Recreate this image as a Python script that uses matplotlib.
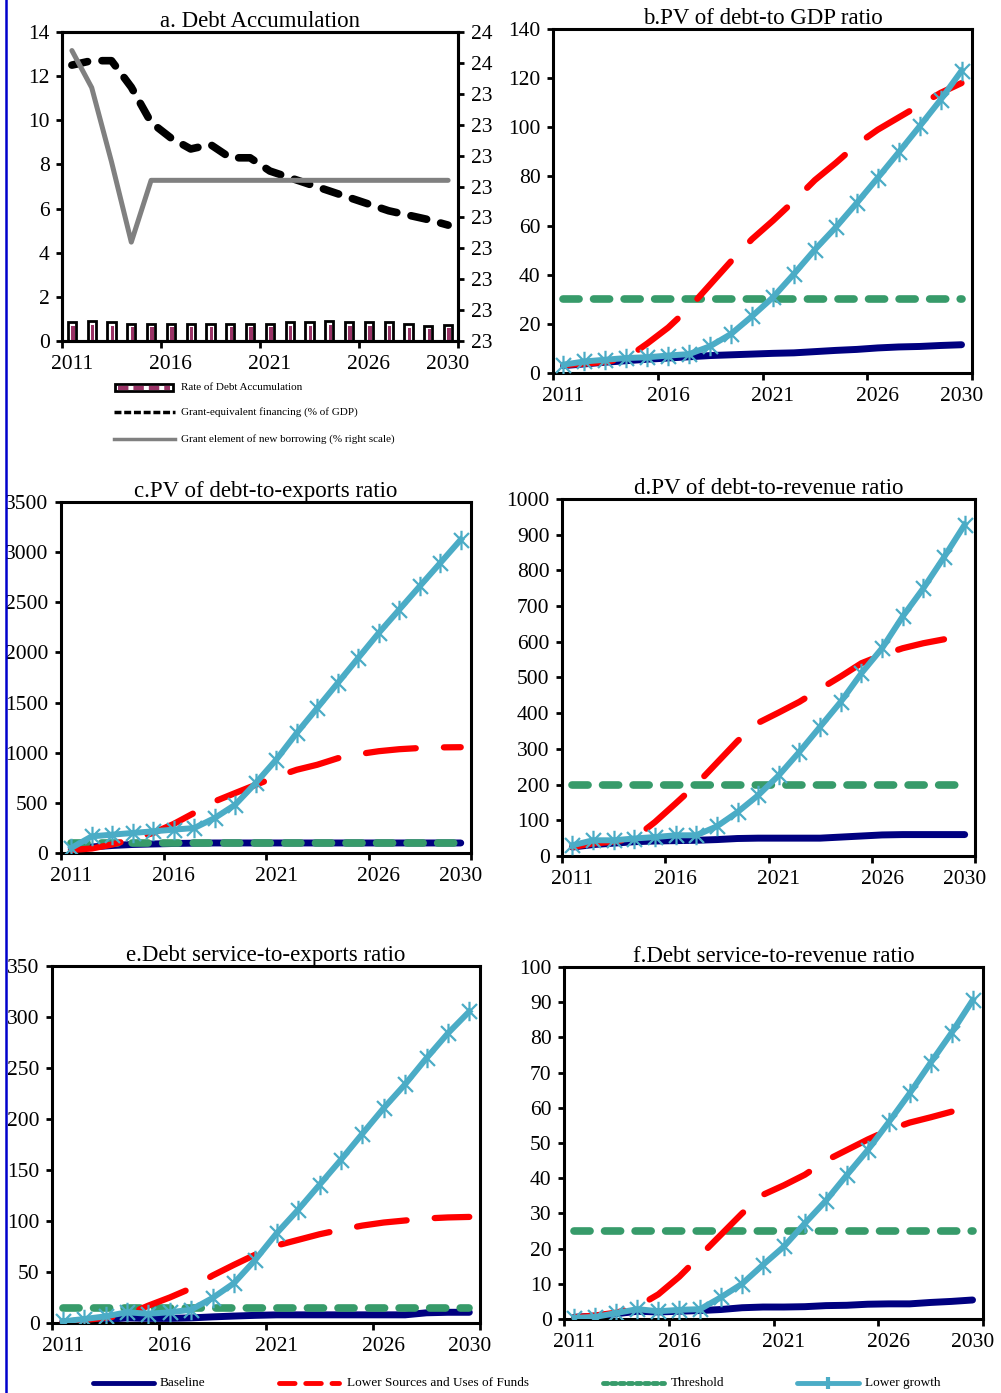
"""
Debt sustainability charts: debt accumulation plus five stress-test ratios
"""

import numpy as np
import matplotlib
matplotlib.use("Agg")
import matplotlib.pyplot as plt
from matplotlib.path import Path
from matplotlib.lines import Line2D
from matplotlib.patches import Rectangle
from matplotlib.ticker import FixedLocator, FixedFormatter, NullFormatter, FuncFormatter

plt.rcParams['font.family'] = ['Liberation Serif', 'DejaVu Serif']

# ---- data -------------------------------------------------------------
years = list(range(2011, 2031))
year_labels = ['2011', '2016', '2021', '2026', '2030']
nan = np.nan

# a. Debt accumulation
debt_accum_rate = [0.85, 0.92, 0.85, 0.78, 0.78, 0.78, 0.78, 0.78, 0.78, 0.78,
                   0.78, 0.85, 0.85, 0.92, 0.85, 0.85, 0.85, 0.75, 0.68, 0.72]
grant_equiv_fin = [12.5, 12.7, 12.7, 11.5, 9.9, 9.2, 8.7, 8.9, 8.3, 8.3,
                   7.7, 7.4, 7.1, 6.8, 6.5, 6.2, 5.9, 5.7, 5.5, 5.25]
grant_element = [23.52, 23.46, 23.34, 23.21] + [23.31] * 16

# b. PV of debt-to GDP ratio
b_baseline = [3.0, 3.7, 4.4, 5.0, 5.6, 6.1, 6.6, 7.1, 7.4, 7.7,
              8.0, 8.2, 8.7, 9.2, 9.6, 10.2, 10.6, 10.8, 11.2, 11.5]
b_lower_src = [3.2, 3.8, 4.5, 6.0, 12.0, 18.5, 26.5, 36.0, 45.5, 54.5,
               62.0, 70.0, 78.5, 85.5, 93.0, 99.0, 104.0, 109.0, 114.0, 118.0]
b_threshold = [30] * 20
b_lower_growth = [3.4, 4.7, 5.4, 6.1, 6.4, 7.1, 7.7, 10.9, 15.9, 23.1,
                  30.8, 40.3, 50.2, 59.3, 69.2, 79.4, 89.8, 100.4, 111.2, 123.0]

# c. PV of debt-to-exports ratio
c_baseline = [40, 60, 75, 85, 90, 95, 98, 100, 100, 100,
              100, 100, 100, 100, 100, 100, 100, 100, 100, 100]
c_lower_src = [30, 45, 85, 140, 200, 290, 400, 515, 598, 680,
               760, 830, 880, 945, 985, 1015, 1035, 1047, 1053, 1055]
c_threshold = [100] * 20
c_lower_growth = [50, 166, 183, 200, 216, 233, 249, 349, 482, 698,
                  931, 1197, 1446, 1695, 1945, 2194, 2427, 2660, 2892, 3125]

# d. PV of debt-to-revenue ratio
d_baseline = [25, 32, 36, 40, 42, 43, 44, 46, 49, 50,
              50, 50, 50, 53, 56, 59, 60, 60, 60, 60]
d_lower_src = [25, 35, 40, 50, 95, 147, 200, 261, 322, 373,
               402, 432, 468, 503, 540, 563, 582, 596, 607, nan]
d_threshold = [200] * 20
d_lower_growth = [30, 44, 44, 49, 53, 58, 58, 83, 123, 170,
                  226, 292, 362, 432, 512, 582, 671, 750, 837, 928]

# e. Debt service-to-exports ratio
e_baseline = [1.0, 2.0, 3.5, 5.0, 4.5, 4.5, 5.0, 6.0, 6.8, 7.5,
              8.0, 8.0, 8.0, 8.0, 8.0, 8.0, 8.0, 10.0, 10.5, 10.5]
e_lower_src = [1.0, 3.0, 5.0, 8.0, 17.0, 25.0, 34.0, 46.5, 57.0, 67.0,
               76.0, 81.5, 87.0, 91.5, 95.5, 98.5, 100.5, 102.5, 103.5, 104.0]
e_threshold = [15] * 20
e_lower_growth = [1.6, 3.9, 6.5, 10.5, 9.1, 10.5, 13.0, 24.5, 39.0, 62.0,
                  88.0, 111.0, 135.5, 160.0, 185.5, 210.7, 234.0, 259.7, 284.0, 305.4]

# f. Debt service-to-revenue ratio
f_baseline = [0.5, 0.8, 1.5, 2.2, 2.0, 2.2, 2.4, 2.7, 3.2, 3.4,
              3.4, 3.5, 3.8, 3.9, 4.2, 4.3, 4.3, 4.7, 5.0, 5.4]
f_lower_src = [0.5, 1.0, 1.8, 3.5, 7.0, 12.0, 18.0, 24.0, 30.0, 35.3,
               38.0, 41.0, 45.0, 48.0, 51.0, 53.7, 55.8, 57.3, 58.9, nan]
f_threshold = [25] * 20
f_lower_growth = [0.3, 0.6, 1.7, 2.8, 2.2, 2.6, 2.8, 6.2, 10.0, 15.4,
                  20.6, 27.2, 33.6, 40.9, 48.0, 55.9, 64.1, 72.8, 81.3, 90.5]

# ---- style ------------------------------------------------------------
NAVY = '#000080'
RED = '#FF0000'
GREEN = '#379B6A'
LBLUE = '#4BACC6'
PURPLE = '#993366'
GREY = '#808080'

TICK_FS = 15.5
TITLE_FS = 16.5

STAR = Path([(-1, -1), (1, 1), (-1, 1), (1, -1), (0, -1.3), (0, 1.3)],
            [Path.MOVETO, Path.LINETO, Path.MOVETO, Path.LINETO, Path.MOVETO, Path.LINETO])

W, H = 1001, 1393


def fx(px):
    return px / W


def fy(py):
    return 1 - py / H


def box(x0, y0, x1, y1):
    # pixel box of the reference -> figure rect
    return [fx(x0), fy(y1), (x1 - x0) / W, (y1 - y0) / H]


def style_axes(ax, ymax, step, title):
    n = len(years)
    ax.set_xlim(-0.5, n - 0.5)
    ax.set_ylim(0, ymax)
    ax.yaxis.set_major_locator(FixedLocator(np.arange(0, ymax + step / 2, step)))
    ax.xaxis.set_major_locator(FixedLocator([-0.5, 4.5, 9.5, 14.5, 19.5]))
    ax.xaxis.set_major_formatter(NullFormatter())
    ax.xaxis.set_minor_locator(FixedLocator([0, 5, 10, 15, 19]))
    ax.xaxis.set_minor_formatter(FixedFormatter(year_labels))
    ax.tick_params(axis='x', which='major', direction='out', length=5, width=2)
    ax.tick_params(axis='x', which='minor', length=0, pad=10, labelsize=TICK_FS)
    ax.tick_params(axis='y', direction='out', length=4, width=2, pad=5, labelsize=TICK_FS)
    for sp in ax.spines.values():
        sp.set_linewidth(2.2)
    ax.set_title(title, fontsize=TITLE_FS, pad=2)


def scenario_panel(rect, title, ymax, step, baseline, lower_src, threshold, lower_growth):
    ax = fig.add_axes(rect)
    x = np.arange(len(years))
    ax.plot(x, baseline, color=NAVY, lw=5, solid_capstyle='round', zorder=2)
    ax.plot(x, threshold, color=GREEN, lw=5.5, dashes=(2.1, 1.9),
            dash_capstyle='round', zorder=3)
    ax.plot(x, lower_src, color=RED, lw=4.5, dashes=(8, 4.5),
            dash_capstyle='round', zorder=4)
    ax.plot(x, lower_growth, color=LBLUE, lw=4.3, marker=STAR, ms=14,
            mew=1.6, mfc='none', mec=LBLUE, zorder=5)
    style_axes(ax, ymax, step, title)
    return ax


fig = plt.figure(figsize=(W / 100, H / 100), dpi=100)

# ---- panel a ------------------------------------------------------------
ax_a = fig.add_axes(box(62, 32, 458, 341))
x = np.arange(len(years))
ax_a.bar(x, debt_accum_rate, width=0.42, color='white', edgecolor='black',
         linewidth=2, zorder=2)
ax_a.bar(x + 0.05, np.array(debt_accum_rate) * 0.8, width=0.18, color=PURPLE,
         linewidth=0, zorder=3)
ax_a.plot(x, grant_equiv_fin, color='black', lw=5.5, dashes=(2.1, 1.9),
          dash_capstyle='round', zorder=4)
style_axes(ax_a, 14, 2, 'a. Debt Accumulation')
ax_a2 = ax_a.twinx()
ax_a2.plot(x, grant_element, color=GREY, lw=3.6, solid_capstyle='round', zorder=5)
ax_a2.set_ylim(23.05, 23.55)
ax_a2.yaxis.set_major_locator(FixedLocator(np.linspace(23.05, 23.55, 11)))
ax_a2.yaxis.set_major_formatter(FuncFormatter(lambda v, p: str(int(np.floor(v + 0.5 + 1e-9)))))
ax_a2.tick_params(axis='y', direction='out', length=4, width=2, pad=5, labelsize=TICK_FS)
for sp in ax_a2.spines.values():
    sp.set_linewidth(2.2)

# legend of panel a
fig.add_artist(Rectangle((fx(115), fy(391)), fx(173) - fx(115), (391 - 384) / H,
                         transform=fig.transFigure, facecolor='white',
                         edgecolor='black', linewidth=2))
fig.add_artist(Line2D([fx(118), fx(170)], [fy(387.5)] * 2, transform=fig.transFigure,
                      color=PURPLE, lw=3, dashes=(2.5, 1.2)))
fig.add_artist(Line2D([fx(114), fx(175)], [fy(412)] * 2, transform=fig.transFigure,
                      color='black', lw=2.5, dashes=(2, 0.8)))
fig.add_artist(Line2D([fx(114), fx(175)], [fy(439)] * 2, transform=fig.transFigure,
                      color=GREY, lw=2.5))
for yy, txt in [(387, 'Rate of Debt Accumulation'),
                (412, 'Grant-equivalent financing (% of GDP)'),
                (439, 'Grant element of new borrowing (% right scale)')]:
    fig.text(fx(181), fy(yy), txt, fontsize=8, va='center', ha='left')

# ---- panels b-f -----------------------------------------------------------
scenario_panel(box(553, 29, 972, 373), 'b.PV of debt-to GDP ratio', 140, 20,
               b_baseline, b_lower_src, b_threshold, b_lower_growth)
scenario_panel(box(61, 502, 471, 853), 'c.PV of debt-to-exports ratio', 3500, 500,
               c_baseline, c_lower_src, c_threshold, c_lower_growth)
scenario_panel(box(562, 499, 975, 856), 'd.PV of debt-to-revenue ratio', 1000, 100,
               d_baseline, d_lower_src, d_threshold, d_lower_growth)
scenario_panel(box(52, 966, 480, 1323), 'e.Debt service-to-exports ratio', 350, 50,
               e_baseline, e_lower_src, e_threshold, e_lower_growth)
scenario_panel(box(564, 967, 983, 1319), 'f.Debt service-to-revenue ratio', 100, 10,
               f_baseline, f_lower_src, f_threshold, f_lower_growth)

# ---- bottom legend ------------------------------------------------------------
ly = fy(1383)
fig.add_artist(Line2D([fx(93), fx(154)], [ly, ly], transform=fig.transFigure,
                      color=NAVY, lw=3.5, solid_capstyle='round'))
fig.add_artist(Line2D([fx(279), fx(339)], [ly, ly], transform=fig.transFigure,
                      color=RED, lw=3.5, dashes=(3.2, 2.2), dash_capstyle='round'))
fig.add_artist(Line2D([fx(603), fx(664)], [ly, ly], transform=fig.transFigure,
                      color=GREEN, lw=3.5, dashes=(0.9, 0.8), dash_capstyle='round'))
fig.add_artist(Line2D([fx(797), fx(828), fx(859)], [ly, ly, ly], transform=fig.transFigure,
                      color=LBLUE, lw=3.5, solid_capstyle='round', marker='|',
                      ms=9, mew=3, markevery=[1]))
for xx, txt in [(160, 'Baseline'), (347, 'Lower Sources and Uses of Funds'),
                (671, 'Threshold'), (865, 'Lower growth')]:
    fig.text(fx(xx), ly, txt, fontsize=9.5, va='center', ha='left')

# blue rule along the left edge
fig.add_artist(Line2D([fx(6), fx(6)], [0, 1], transform=fig.transFigure,
                      color='#0000CC', lw=1.8))

fig.savefig('out.png', dpi=100)
